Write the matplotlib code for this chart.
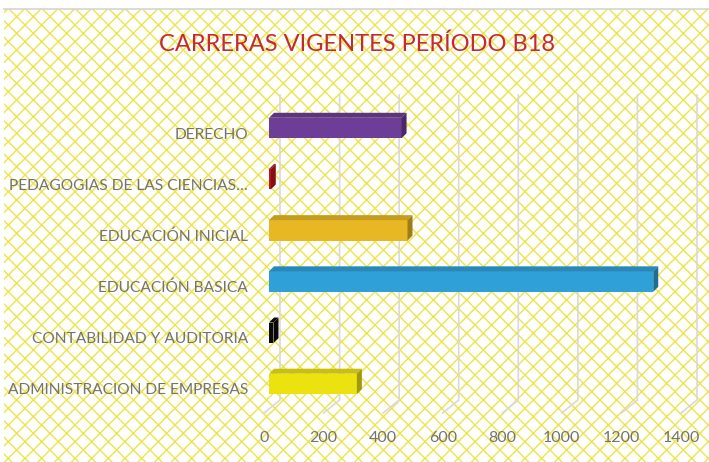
import matplotlib
matplotlib.use('Agg')
import matplotlib.pyplot as plt
import numpy as np
from matplotlib.patches import Rectangle, Polygon
from matplotlib.lines import Line2D
from matplotlib import transforms as mtransforms
from matplotlib import colors as mcolors

# ---------------- data ----------------
categories = ['ADMINISTRACION DE EMPRESAS', 'CONTABILIDAD Y AUDITORIA',
              'EDUCACIÓN BASICA', 'EDUCACIÓN INICIAL',
              'PEDAGOGIAS DE LAS CIENCIAS…', 'DERECHO']
values = [295, 15, 1290, 465, 6, 445]
bar_colors = ['#ebe20f', '#0a0a0a', '#2fa0d8', '#e8b824', '#c3161c', '#6d3d97']
xticks = [0, 200, 400, 600, 800, 1000, 1200, 1400]
title = 'CARRERAS VIGENTES PERÍODO B18'

FONT = ['Lato', 'DejaVu Sans']
plt.rcParams['font.family'] = FONT
plt.rcParams['hatch.linewidth'] = 1.0

W, H = 709, 462
fig = plt.figure(figsize=(W / 100, H / 100), dpi=100)
fig.patch.set_facecolor('white')

# patterned background
bg = Rectangle((4 / W, 0), 1 - 4 / W, 1 - 9 / H, transform=fig.transFigure,
               facecolor='white', edgecolor='#ece44a', hatch='xx', lw=0, zorder=-10)
fig.patches.append(bg)
fig.add_artist(Line2D([4 / W, 1], [1 - 8.5 / H, 1 - 8.5 / H], transform=fig.transFigure,
                      color='#d4d4d4', lw=1.2))

ax = fig.add_axes([269 / W, 1 - 430 / H, (686 - 269) / W, (430 - 95) / H])
ax.set_facecolor('none')
for s in ax.spines.values():
    s.set_visible(False)

xmin, xmax = 0, 1400
ymin, ymax = -0.9, 5.645
ax.set_xlim(xmin, xmax)
ax.set_ylim(ymin, ymax)

ax_w_px = (686 - 269)
ax_h_px = (430 - 95)
def px_x(p):
    return p / ax_w_px * (xmax - xmin)
def px_y(p):
    return p / ax_h_px * (ymax - ymin)

# gridlines (back wall + floor diagonal)
y_top = ymax
y_bend = ymin + px_y(30)
y_floor = ymin + px_y(17)
for t in xticks:
    xb = t + px_x(11)
    xf = t - px_x(5)
    ax.plot([xb, xb, xf], [y_top, y_bend, y_floor], color='#d9d9d9', lw=1.2,
            zorder=1, solid_joinstyle='miter', clip_on=False)

# 3D bars
ypos = np.arange(len(categories))
bh = 0.40
dx, dy = px_x(5), px_y(5)

def shade(c, f):
    r, g, b = mcolors.to_rgb(c)
    return (r * f, g * f, b * f)

ax.barh(ypos, values, height=bh, color=bar_colors, zorder=3, lw=0)
for y, v, c in zip(ypos, values, bar_colors):
    top = y + bh / 2
    bot = y - bh / 2
    top_face = Polygon([(0, top), (v, top), (v + dx, top + dy), (dx, top + dy)],
                       closed=True, facecolor=shade(c, 0.85), lw=0, zorder=3)
    right_face = Polygon([(v, bot), (v + dx, bot + dy), (v + dx, top + dy), (v, top)],
                         closed=True, facecolor=shade(c, 0.68), lw=0, zorder=3)
    ax.add_patch(top_face)
    ax.add_patch(right_face)

# ticks
ax.set_xticks(xticks)
ax.set_xticklabels([str(t) for t in xticks])
ax.set_yticks(ypos)
ax.set_yticklabels(categories)
ax.tick_params(axis='x', length=0, pad=1, labelsize=11.5, labelcolor='#737373')
ax.tick_params(axis='y', length=0, pad=15, labelsize=11.2, labelcolor='#737373')
shift_x = mtransforms.ScaledTranslation(-0.05, 0, fig.dpi_scale_trans)
for lab in ax.get_xticklabels():
    lab.set_transform(lab.get_transform() + shift_x)
shift_y = mtransforms.ScaledTranslation(0, -0.05, fig.dpi_scale_trans)
for lab in ax.get_yticklabels():
    lab.set_transform(lab.get_transform() + shift_y)

fig.text(357 / W, 1 - 44 / H, title, ha='center', va='center',
         color='#c42a2e', fontsize=17)

fig.savefig('out.png', dpi=100, facecolor='white')
